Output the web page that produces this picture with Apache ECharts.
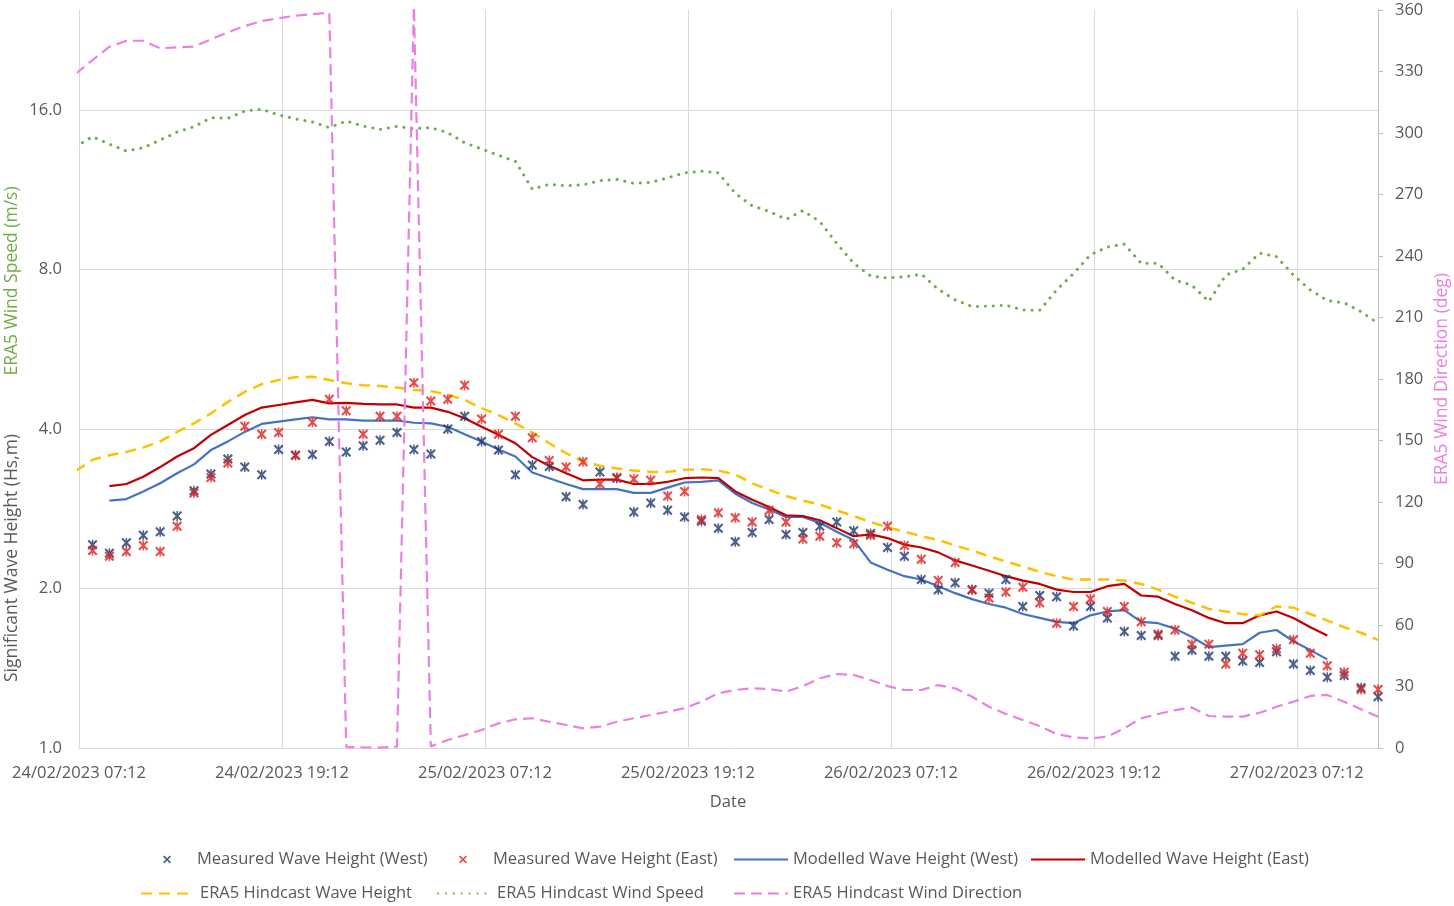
<!DOCTYPE html>
<html>
<head>
<meta charset="utf-8">
<script src="https://cdn.jsdelivr.net/npm/echarts@6/dist/echarts.min.js"></script>
<style>
html,body{margin:0;padding:0;background:#fff;}
#chart{width:1454px;height:906px;}
</style>
</head>
<body>
<div id="chart"></div>
<script>
// ---------- DATA (hourly) ----------
const axisOrigin = '2023-02-24 07:12';
const axisEnd = '2023-02-27 12:00';
const era5Start = '2023-02-24 07:00';
const measuredStart = '2023-02-24 08:00';
const modelledStart = '2023-02-24 09:00';

const measuredWest = [2.42,2.33,2.44,2.52,2.56,2.74,3.06,3.29,3.51,3.39,3.28,3.66,3.57,3.58,3.79,3.62,3.72,3.81,3.94,3.66,
  3.59,4.00,4.23,3.79,3.65,3.28,3.42,3.40,2.98,2.88,3.32,3.23,2.79,2.90,2.81,2.73,2.68,2.60,2.45,2.55,
  2.70,2.53,2.55,2.62,2.67,2.57,2.54,2.39,2.30,2.08,1.99,2.05,1.99,1.96,2.08,1.85,1.94,1.93,1.70,1.85,
  1.76,1.66,1.63,1.63,1.49,1.53,1.49,1.49,1.46,1.45,1.52,1.44,1.40,1.36,1.37,1.30,1.25];
const measuredEast = [2.36,2.30,2.35,2.41,2.35,2.62,3.03,3.24,3.45,4.05,3.91,3.94,3.57,4.12,4.55,4.33,3.91,4.23,4.23,4.89,
  4.52,4.55,4.84,4.18,3.91,4.23,3.85,3.49,3.39,3.47,3.15,3.24,3.22,3.20,2.99,3.05,2.70,2.78,2.72,2.67,
  2.81,2.67,2.48,2.51,2.44,2.43,2.52,2.62,2.41,2.27,2.07,2.24,1.99,1.92,1.97,2.01,1.88,1.72,1.85,1.91,
  1.81,1.85,1.73,1.64,1.67,1.57,1.57,1.44,1.51,1.50,1.54,1.60,1.51,1.43,1.39,1.29,1.29];
const modelledWest = [2.93,2.95,3.05,3.16,3.30,3.43,3.65,3.79,3.95,4.09,4.13,4.17,4.21,4.17,4.17,4.15,4.15,4.15,4.11,
  4.10,4.04,3.91,3.79,3.66,3.55,3.31,3.23,3.15,3.08,3.08,3.08,3.03,3.03,3.10,3.17,3.18,3.20,3.02,2.90,
  2.82,2.73,2.73,2.66,2.56,2.47,2.24,2.17,2.11,2.08,2.02,1.96,1.91,1.87,1.84,1.79,1.76,1.73,1.72,1.78,
  1.81,1.82,1.73,1.72,1.68,1.62,1.55,1.56,1.57,1.65,1.67,1.59,1.53,1.47];
const modelledEast = [3.12,3.15,3.25,3.39,3.55,3.68,3.90,4.07,4.25,4.39,4.44,4.49,4.54,4.47,4.48,4.46,4.45,4.45,4.39,
  4.39,4.31,4.19,4.04,3.90,3.76,3.54,3.41,3.30,3.20,3.21,3.21,3.15,3.15,3.18,3.23,3.24,3.23,3.05,2.94,
  2.85,2.75,2.74,2.69,2.60,2.51,2.53,2.49,2.42,2.39,2.34,2.26,2.21,2.16,2.11,2.07,2.04,1.99,1.97,1.97,
  2.02,2.04,1.94,1.93,1.87,1.82,1.76,1.72,1.72,1.78,1.81,1.76,1.69,1.63];
const era5WaveHeight = [3.33,3.50,3.57,3.62,3.69,3.79,3.95,4.10,4.28,4.50,4.70,4.86,4.95,5.01,5.02,4.95,4.88,4.84,4.82,4.79,
  4.74,4.72,4.64,4.54,4.38,4.25,4.10,3.94,3.76,3.60,3.47,3.41,3.37,3.34,3.32,3.32,3.35,3.36,3.34,3.28,
  3.16,3.07,2.99,2.93,2.88,2.81,2.74,2.67,2.61,2.56,2.51,2.47,2.41,2.36,2.30,2.25,2.20,2.15,2.11,2.08,
  2.08,2.08,2.07,2.04,1.99,1.93,1.88,1.83,1.81,1.79,1.78,1.85,1.84,1.79,1.74,1.69,1.65,1.60];
const era5WindSpeed = [13.64,14.25,13.79,13.39,13.58,14.04,14.54,14.88,15.47,15.43,15.93,16.05,15.66,15.39,15.19,14.82,15.25,14.92,14.71,14.90,
  14.75,14.82,14.50,13.88,13.51,13.14,12.80,11.34,11.58,11.51,11.56,11.77,11.83,11.63,11.68,11.91,12.18,12.26,12.18,11.14,
  10.55,10.30,9.95,10.33,9.85,8.96,8.22,7.78,7.71,7.75,7.84,7.34,7.01,6.81,6.82,6.85,6.71,6.70,7.32,7.86,
  8.53,8.82,8.93,8.22,8.22,7.64,7.47,6.96,7.81,8.01,8.59,8.46,7.81,7.32,6.99,6.92,6.66,6.33];
const era5WindDirection = [328.8,335.6,342.1,345.0,345.0,341.3,341.8,342.1,345.7,349.1,352.2,354.6,356.0,357.2,358.0,358.7,0.5,0.3,0.2,0.6,
  362.0,0.8,3.9,6.3,8.8,12.0,14.0,14.5,12.8,11.2,9.6,10.4,12.8,14.5,16.1,17.7,19.4,22.6,26.7,28.3,
  29.1,28.8,27.5,30.2,34.0,36.1,35.6,33.2,30.2,28.3,28.3,30.7,29.1,25.0,20.1,16.6,13.7,10.7,6.8,5.2,
  4.7,5.5,9.6,14.5,16.6,18.5,19.8,15.6,15.3,15.3,17.2,20.1,22.6,25.4,25.9,22.6,18.9,15.3];

const seriesNames = ['Measured Wave Height (West)','Measured Wave Height (East)','Modelled Wave Height (West)',
  'Modelled Wave Height (East)','ERA5 Hindcast Wave Height','ERA5 Hindcast Wind Speed','ERA5 Hindcast Wind Direction'];
const axisTitles = {
  x: 'Date', hs: 'Significant Wave Height (Hs,m)', ws: 'ERA5 Wind Speed (m/s)', wd: 'ERA5 Wind Direction (deg)'
};

// ---------- helpers ----------
function parseUTC(s){
  const m = s.match(/(\d+)-(\d+)-(\d+) (\d+):(\d+)/);
  return Date.UTC(+m[1], +m[2]-1, +m[3], +m[4], +m[5]);
}
const ORIGIN = parseUTC(axisOrigin);
const HOUR = 3600000;
function hoursFromOrigin(s){ return (parseUTC(s) - ORIGIN) / HOUR; }
function hourly(startStr, values){
  const s = hoursFromOrigin(startStr);
  return values.map((v,i)=>[s+i, v]);
}
function pad(n){ return (n<10?'0':'')+n; }
function fmtDate(h){
  const d = new Date(ORIGIN + Math.round(h*HOUR));
  return pad(d.getUTCDate())+'/'+pad(d.getUTCMonth()+1)+'/'+d.getUTCFullYear()+' '+pad(d.getUTCHours())+':'+pad(d.getUTCMinutes());
}

const FONT = 'Open Sans';
const FS = 16.5;
const TXT = '#595959';
const GRID = '#d9d9d9';
const C_MW = '#1f3a6e', C_ME = '#e02020', C_LW = '#4472c4', C_LE = '#c00000',
      C_WAVE = '#ffc000', C_WS = '#70ad47', C_WD = '#ea80e2';
const starPath = 'path://M0,1.5L1.5,0L5,3.5L8.5,0L10,1.5L6.5,5L10,8.5L8.5,10L5,6.5L1.5,10L0,8.5L3.5,5Z M4.25,0L5.75,0L5.75,10L4.25,10Z';
const crossPath = 'path://M0,1.5L1.5,0L5,3.5L8.5,0L10,1.5L6.5,5L10,8.5L8.5,10L5,6.5L1.5,10L0,8.5L3.5,5Z';

const chart = echarts.init(document.getElementById('chart'), null, {renderer:'canvas'});

function legendItem(name, left, top, w, icon){
  const o = {
    data: [icon ? {name: name, icon: icon} : name],
    left: left, top: top, orient: 'horizontal',
    itemWidth: w, itemHeight: icon ? 8 : 14,
    selectedMode: false,
    padding: 0,
    textStyle: {fontFamily: FONT, fontSize: FS, color: TXT}
  };
  if (!icon) o.itemStyle = {opacity: 0};
  return o;
}

const option = {
  animation: false,
  backgroundColor: '#ffffff',
  textStyle: {fontFamily: FONT},
  grid: {left: 79, top: 10, width: 1299, height: 738, containLabel: false},
  xAxis: {
    type: 'value',
    min: 0,
    max: hoursFromOrigin(axisEnd),
    interval: 12,
    axisLine: {show: true, onZero: false, lineStyle: {color: GRID, width: 1}},
    axisTick: {show: false},
    axisLabel: {
      color: TXT, fontFamily: FONT, fontSize: FS, margin: 17,
      showMaxLabel: false,
      formatter: v => fmtDate(v)
    },
    splitLine: {show: true, showMaxLine: false, lineStyle: {color: GRID, width: 1}}
  },
  yAxis: [
    {
      type: 'log', logBase: 2, min: 1, max: 24.71,
      axisLine: {show: false},
      axisTick: {show: false},
      axisLabel: {color: TXT, fontFamily: FONT, fontSize: FS, margin: 17, showMaxLabel: false,
        formatter: v => (Math.round(v*10)/10).toFixed(1)},
      splitLine: {show: true, showMaxLine: false, showMinLine: false, lineStyle: {color: GRID, width: 1}}
    },
    {
      type: 'value', min: 0, max: 360, interval: 30, position: 'right',
      axisLine: {show: true, lineStyle: {color: '#bfbfbf', width: 1}},
      axisTick: {show: true, inside: false, length: 5, lineStyle: {color: '#bfbfbf'}},
      axisLabel: {color: TXT, fontFamily: FONT, fontSize: FS, margin: 17},
      splitLine: {show: false}
    }
  ],
  legend: [
    legendItem(seriesNames[0], 163, 851, 50, crossPath),
    legendItem(seriesNames[1], 459, 851, 50, crossPath),
    legendItem(seriesNames[2], 733, 851, 54),
    legendItem(seriesNames[3], 1030, 851, 54),
    legendItem(seriesNames[4], 140, 885, 54),
    legendItem(seriesNames[5], 437, 885, 54),
    legendItem(seriesNames[6], 733, 885, 54)
  ],
  graphic: [
    {type:'text', x: 728, y: 802, style:{text: axisTitles.x, fill: TXT, font: '16.5px "Open Sans"', align:'center', verticalAlign:'middle'}},
    {type:'text', x: 12, y: 558, rotation: Math.PI/2, style:{text: axisTitles.hs, fill: TXT, font: '17.5px "Open Sans"', align:'center', verticalAlign:'middle'}},
    {type:'text', x: 12, y: 281, rotation: Math.PI/2, style:{text: axisTitles.ws, fill: C_WS, font: '17.5px "Open Sans"', align:'center', verticalAlign:'middle'}},
    {type:'text', x: 1442, y: 379, rotation: Math.PI/2, style:{text: axisTitles.wd, fill: C_WD, font: '17.5px "Open Sans"', align:'center', verticalAlign:'middle'}}
  ],
  series: [
    {
      name: seriesNames[0], type: 'scatter', yAxisIndex: 0, z: 5,
      symbol: starPath, symbolSize: 10,
      itemStyle: {color: C_MW},
      data: hourly(measuredStart, measuredWest)
    },
    {
      name: seriesNames[1], type: 'scatter', yAxisIndex: 0, z: 5,
      symbol: starPath, symbolSize: 10,
      itemStyle: {color: C_ME},
      data: hourly(measuredStart, measuredEast)
    },
    {
      name: seriesNames[2], type: 'line', yAxisIndex: 0, z: 3,
      symbol: 'none', showSymbol: false,
      lineStyle: {color: C_LW, width: 2.2},
      itemStyle: {color: C_LW},
      data: hourly(modelledStart, modelledWest)
    },
    {
      name: seriesNames[3], type: 'line', yAxisIndex: 0, z: 3,
      symbol: 'none', showSymbol: false,
      lineStyle: {color: C_LE, width: 2.2},
      itemStyle: {color: C_LE},
      data: hourly(modelledStart, modelledEast)
    },
    {
      name: seriesNames[4], type: 'line', yAxisIndex: 0, z: 3,
      symbol: 'none', showSymbol: false,
      lineStyle: {color: C_WAVE, width: 2.5, type: [11, 7]},
      itemStyle: {color: C_WAVE},
      data: hourly(era5Start, era5WaveHeight)
    },
    {
      name: seriesNames[5], type: 'line', yAxisIndex: 0, z: 3,
      symbol: 'none', showSymbol: false,
      lineStyle: {color: C_WS, width: 3, type: [0.1, 7.8], cap: 'round'},
      itemStyle: {color: C_WS},
      data: hourly(era5Start, era5WindSpeed)
    },
    {
      name: seriesNames[6], type: 'line', yAxisIndex: 1, z: 3,
      symbol: 'none', showSymbol: false,
      lineStyle: {color: C_WD, width: 2.2, type: [11, 6]},
      itemStyle: {color: C_WD},
      data: hourly(era5Start, era5WindDirection)
    }
  ]
};
chart.setOption(option);
</script>
</body>
</html>
